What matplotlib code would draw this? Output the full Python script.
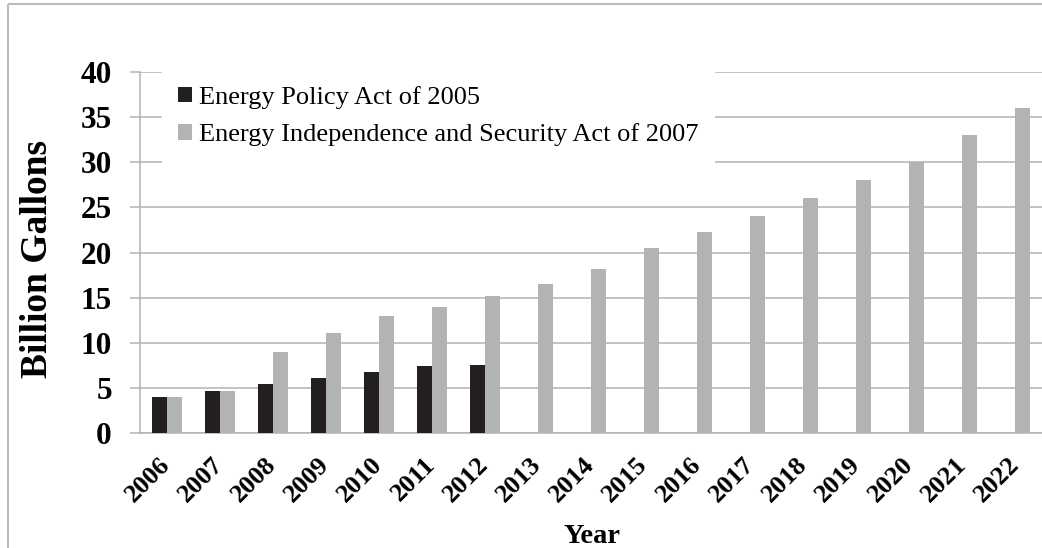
import numpy as np
import matplotlib
matplotlib.use("Agg")
import matplotlib.pyplot as plt
from matplotlib.patches import Rectangle, Patch

# Renewable fuel volume requirements (billion gallons)
years = ["2006", "2007", "2008", "2009", "2010", "2011", "2012", "2013", "2014",
         "2015", "2016", "2017", "2018", "2019", "2020", "2021", "2022"]
epact_2005 = [4.0, 4.7, 5.4, 6.1, 6.8, 7.4, 7.5,
              np.nan, np.nan, np.nan, np.nan, np.nan, np.nan, np.nan, np.nan, np.nan, np.nan]
eisa_2007 = [4.0, 4.7, 9.0, 11.1, 12.95, 13.95, 15.2, 16.55, 18.15,
             20.5, 22.25, 24.0, 26.0, 28.0, 30.0, 33.0, 36.0]
series_names = ["Energy Policy Act of 2005",
                "Energy Independence and Security Act of 2007"]
y_ticks = [0, 5, 10, 15, 20, 25, 30, 35, 40]

DARK = "#231f20"
LIGHT = "#b2b3b5"
GRID = "#b3b3b3"
SERIF = "Liberation Serif"

W, H = 1042, 548
fig = plt.figure(figsize=(W / 100, H / 100), dpi=100)
fig.patch.set_facecolor("white")

# Chart-area border
fig.patches.append(Rectangle((8 / W, 1 - 4 / H), 1.2, -1.2,
                             transform=fig.transFigure, fill=False,
                             edgecolor="#bdbdbd", linewidth=1.5, zorder=0))

ax = fig.add_axes([140 / W, 115 / H, 902 / W, 361 / H])
x = np.arange(len(years))
bw = 0.2825
ax.bar(x - bw / 2, epact_2005, width=bw, color=DARK, zorder=3)
ax.bar(x + bw / 2, eisa_2007, width=bw, color=LIGHT, zorder=3)

ax.set_xlim(-0.5, len(years) - 0.5)
ax.set_ylim(0, 40)
ax.set_yticks(y_ticks)
ax.set_yticklabels([str(v) for v in y_ticks], fontfamily=SERIF,
                   fontweight="bold", fontsize=22.5)
ax.set_xticks(x)
ax.set_xticklabels(years, rotation=45, ha="right", va="center",
                   rotation_mode="anchor", fontfamily=SERIF,
                   fontweight="bold", fontsize=19)
ax.tick_params(axis="y", length=7.2, width=1.1, color=GRID, pad=13)
ax.tick_params(axis="x", length=0, pad=20)

ax.yaxis.grid(True, color=GRID, linewidth=1.1, zorder=0)
ax.set_axisbelow(True)
for side in ("top", "right"):
    ax.spines[side].set_visible(False)
for side in ("left", "bottom"):
    ax.spines[side].set_color(GRID)
    ax.spines[side].set_linewidth(1.1)

fig.text(37.5 / W, 1 - 259.5 / H, "Billion Gallons", rotation=90,
         ha="center", va="center", fontfamily=SERIF, fontweight="bold",
         fontsize=27)
fig.text(592 / W, 1 - 543 / H, "Year", ha="center", va="baseline",
         fontfamily=SERIF, fontweight="bold", fontsize=20.5)

handles = [Patch(facecolor=DARK), Patch(facecolor=LIGHT)]
leg = fig.legend(handles, series_names, loc="upper left",
                 bbox_to_anchor=(162 / W, 1 - 70 / H),
                 bbox_transform=fig.transFigure, borderaxespad=0,
                 frameon=True, fancybox=False, framealpha=1,
                 edgecolor="white", facecolor="white",
                 prop={"family": SERIF, "size": 19},
                 handlelength=0.55, handleheight=0.55, handletextpad=0.25,
                 labelspacing=0.55, borderpad=0.6)
leg.set_zorder(5)

fig.savefig("out.png", dpi=100)
